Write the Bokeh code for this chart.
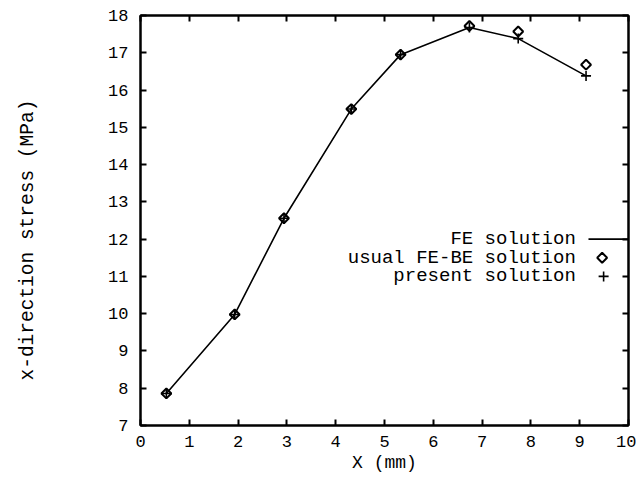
import math
from bokeh.plotting import figure
from bokeh.models import LinearAxis, FixedTicker, Label, Range1d, Title
from bokeh.embed import file_html
from bokeh.resources import INLINE

# Data
x_mm = [0.53, 1.93, 2.94, 4.32, 5.33, 6.74, 7.74, 9.13]
fe_solution = [7.86, 9.98, 12.56, 15.49, 16.95, 17.68, 17.38, 16.38]
usual_fe_be = [7.86, 9.98, 12.56, 15.49, 16.95, 17.72, 17.57, 16.68]
present_solution = [7.86, 9.98, 12.56, 15.49, 16.95, 17.68, 17.38, 16.38]
x_ticks = [0, 1, 2, 3, 4, 5, 6, 7, 8, 9, 10]
y_ticks = [7, 8, 9, 10, 11, 12, 13, 14, 15, 16, 17, 18]
legend_labels = ["FE solution", "usual FE-BE solution", "present solution"]
x_title = "X (mm)"
y_title = "x-direction stress (MPa)"

FONT = "Liberation Mono"
W, H = 636, 477

p = figure(width=W, height=H, output_backend="svg", toolbar_location=None,
           x_range=Range1d(0, 10), y_range=Range1d(7, 18),
           min_border_left=140, min_border_right=8, min_border_top=15, min_border_bottom=52,
           x_axis_label=x_title)
p.grid.visible = False
p.outline_line_color = "black"
p.outline_line_width = 2
p.background_fill_color = "white"
p.border_fill_color = "white"

def style_axis(ax, ticks, labels=True):
    ax.ticker = FixedTicker(ticks=ticks)
    ax.major_tick_in = 6
    ax.major_tick_out = 0
    ax.minor_tick_line_color = None
    ax.axis_line_width = 2
    ax.major_tick_line_width = 2
    ax.major_label_text_font = FONT
    ax.major_label_text_font_size = "17px" if labels else "0px"
    ax.major_label_text_color = "black" if labels else None
    ax.axis_label_text_font = FONT
    ax.axis_label_text_font_style = "normal"
    ax.axis_label_text_font_size = "18px"
    ax.axis_label_text_color = "black"

for ax in p.xaxis:
    style_axis(ax, x_ticks)
    ax.major_label_standoff = 10
    ax.axis_label_standoff = 3
for ax in p.yaxis:
    style_axis(ax, y_ticks)
    ax.major_label_standoff = 12

top = LinearAxis()
style_axis(top, x_ticks, labels=False)
p.add_layout(top, "above")
right = LinearAxis()
style_axis(right, y_ticks, labels=False)
p.add_layout(right, "right")

# Spacer between the y axis and its title, then the y title
p.add_layout(Title(text=" ", standoff=43, text_font_size="19.5px"), "left")
p.add_layout(Title(text=y_title, align="left", offset=45, standoff=0,
                   text_font=FONT, text_font_size="19.5px", text_font_style="normal",
                   text_color="black"), "left")

# Curves
p.line(x_mm, fe_solution, line_color="black", line_width=1.6)
p.scatter(x_mm, usual_fe_be, marker="square", angle=math.pi / 4, size=7, fill_color=None,
          line_color="black", line_width=2)
p.scatter(x_mm, present_solution, marker="cross", size=10, line_color="black", line_width=1.6)

# Manual legend (text right-aligned, sample to the right)
leg_text_x = 8.92
leg_rows = [12.0, 11.5, 11.0]
for lab, yy in zip(legend_labels, leg_rows):
    p.add_layout(Label(x=leg_text_x, y=yy, text=lab, text_align="right",
                       text_baseline="middle", text_font=FONT,
                       text_font_size="19px", text_color="black"))
p.segment(x0=[9.18], y0=[leg_rows[0]], x1=[10.0], y1=[leg_rows[0]],
          line_color="black", line_width=1.6)
p.scatter([9.46], [leg_rows[1]], marker="square", angle=math.pi / 4, size=7, fill_color=None,
          line_color="black", line_width=2)
p.scatter([9.49], [leg_rows[2]], marker="cross", size=10, line_color="black", line_width=1.6)

open("out.html", "w").write(file_html(p, INLINE))
